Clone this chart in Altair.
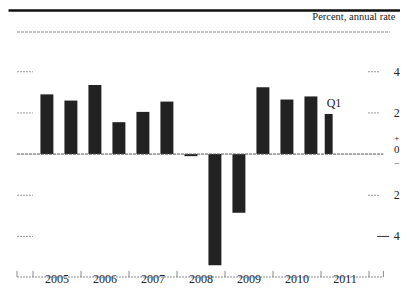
import altair as alt
import pandas as pd

# ---- data ----
periods = ["2005 H1", "2005 H2", "2006 H1", "2006 H2", "2007 H1", "2007 H2",
           "2008 H1", "2008 H2", "2009 H1", "2009 H2", "2010 H1", "2010 H2", "2011 Q1"]
values = [2.9, 2.6, 3.35, 1.55, 2.05, 2.55, -0.1, -5.4, -2.85, 3.25, 2.65, 2.8, 1.95]
years = [2005, 2006, 2007, 2008, 2009, 2010, 2011]
tick_values = [4, 2, -2, -4]
tick_labels = ["4", "2", "2", "4"]
zero_parts = ["+", "0", "\u2013"]
title_text = "Percent, annual rate"
note_text = "Q1"

FONT = "Liberation Serif"
XDOM = [2004.667, 2012.4375]
YDOM = [-5.97, 5.93]
xs = alt.Scale(domain=XDOM, nice=False, zero=False)
ys = alt.Scale(domain=YDOM, nice=False, zero=False)


def bar_span(p):
    yr, part = p.split()
    yr = int(yr)
    if part == "H1":
        c, w = yr + 0.29, 0.27
    elif part == "H2":
        c, w = yr + 0.79, 0.27
    else:  # Q1
        c, w = yr + 0.16, 0.165
    return c - w / 2, c + w / 2


bars_df = pd.DataFrame({
    "period": periods,
    "value": values,
    "base": [0.0] * len(values),
    "x0": [bar_span(p)[0] for p in periods],
    "x1": [bar_span(p)[1] for p in periods],
})

X = lambda f: alt.X(f, scale=xs, axis=None)
Y = lambda f: alt.Y(f, scale=ys, axis=None)

bars = alt.Chart(bars_df).mark_bar(color="#222222").encode(
    x=X("x0:Q"), x2="x1:Q", y=Y("value:Q"), y2="base:Q")


def hrule(a, b, yv, **kw):
    df = pd.DataFrame({"a": a, "b": b, "y": yv})
    return alt.Chart(df).mark_rule(**kw).encode(x=X("a:Q"), x2="b:Q", y=Y("y:Q"))


n = len(tick_values)
zero_line = hrule([XDOM[0]], [2012.3], [0], color="#555555", strokeWidth=1, strokeDash=[3, 1])
left_stubs = hrule([XDOM[0]] * n, [2005.0] * n, tick_values, color="#9a9a9a", strokeWidth=1, strokeDash=[2, 1])
right_stubs = hrule([2011.98] * 3, [2012.22] * 3, tick_values[:3], color="#9a9a9a", strokeWidth=1, strokeDash=[2, 1])
minus4_stub = hrule([2012.17], [2012.42], [-4], color="#333333", strokeWidth=1)
top_line = hrule([2004.49], [2012.85], [6.98], color="#111111", strokeWidth=2.5)
top2_line = hrule([XDOM[0]], [XDOM[1]], [YDOM[1]], color="#8a8a8a", strokeWidth=1, strokeDash=[3, 1])
bot_line = hrule([XDOM[0]], [2012.3], [YDOM[0]], color="#8a8a8a", strokeWidth=1, strokeDash=[2, 1])

tick_x = [XDOM[0]] + years + [2012, 2012.3]
btick_df = pd.DataFrame({"x": tick_x, "y0": [YDOM[0]] * len(tick_x), "y1": [YDOM[0] + 0.3] * len(tick_x)})
bot_ticks = alt.Chart(btick_df).mark_rule(color="#8a8a8a", strokeWidth=1).encode(
    x=X("x:Q"), y=Y("y0:Q"), y2="y1:Q")


def texts(xv, yv, tv, **kw):
    df = pd.DataFrame({"x": xv, "y": yv, "t": tv})
    return alt.Chart(df).mark_text(font=FONT, color="#222222", **kw).encode(
        x=X("x:Q"), y=Y("y:Q"), text="t:N")


RX = 2012.58
right_labels = texts([RX] * n, tick_values, tick_labels, fontSize=12, align="center", baseline="middle")
zero_plus = texts([RX], [0.76], [zero_parts[0]], fontSize=9, align="center", baseline="middle")
zero_zero = texts([RX], [0.2], [zero_parts[1]], fontSize=11, align="center", baseline="middle")
zero_minus = texts([RX], [-0.36], [zero_parts[2]], fontSize=9, align="center", baseline="middle")
title = texts([2012.55], [6.68], [title_text], fontSize=10.5, align="right", baseline="middle")
year_labels = texts([y + 0.5 for y in years], [-6.24] * len(years), [str(y) for y in years],
                    fontSize=12, align="center", baseline="alphabetic")
q_label = texts([2011.27], [2.5], [note_text], fontSize=12, align="center", baseline="middle")

chart = alt.layer(
    top_line, top2_line, title, left_stubs, right_stubs, minus4_stub, bot_line, bot_ticks,
    bars, zero_line, right_labels, zero_plus, zero_zero, zero_minus, year_labels, q_label,
).properties(
    width=373, height=245,
    padding={"left": 9, "top": 24, "right": 10, "bottom": 10},
    autosize=alt.AutoSizeParams(type="none"),
    background="white",
).configure_view(stroke=None)

chart.save("out.html", embed_options={"renderer": "svg", "actions": False})
